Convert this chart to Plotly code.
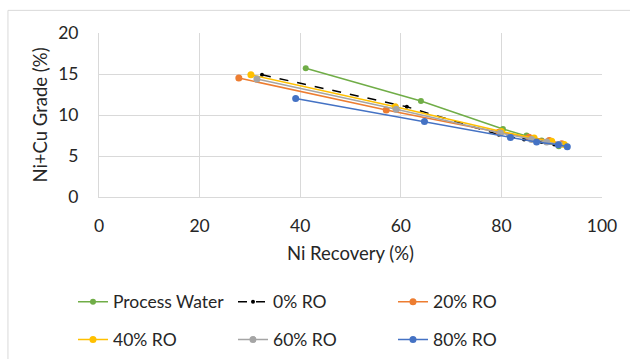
import plotly.graph_objects as go

# Ni recovery (%) vs Ni+Cu grade (%) for each water composition
pw_rec = [41.1, 64.0, 80.3, 85.0, 88.0, 91.4]
pw_grade = [15.7, 11.7, 8.3, 7.5, 6.9, 6.2]

ro0_rec = [32.4, 61.2, 79.5, 84.5, 88.0, 90.5]
ro0_grade = [14.9, 11.0, 7.6, 7.0, 6.7, 6.4]

ro20_rec = [27.8, 57.1, 79.5, 85.5, 89.5, 92.0]
ro20_grade = [14.5, 10.6, 7.9, 7.3, 6.9, 6.5]

ro40_rec = [30.2, 58.9, 80.0, 86.5, 90.0, 92.5]
ro40_grade = [14.9, 11.0, 8.0, 7.2, 6.8, 6.4]

ro60_rec = [31.4, 59.1, 79.8, 86.0, 89.0, 91.5]
ro60_grade = [14.4, 10.7, 7.8, 7.0, 6.7, 6.4]

ro80_rec = [39.1, 64.7, 81.8, 87.0, 91.3, 93.1]
ro80_grade = [12.0, 9.2, 7.26, 6.7, 6.36, 6.12]

# (name, x, y, colour, dash, marker size, legend row)
series = [
    ("Process Water", pw_rec, pw_grade, "#70AD47", "solid", 6, "legend"),
    ("0% RO", ro0_rec, ro0_grade, "#000000", "dash", 4, "legend"),
    ("20% RO", ro20_rec, ro20_grade, "#ED7D31", "solid", 7, "legend"),
    ("40% RO", ro40_rec, ro40_grade, "#FFC000", "solid", 7, "legend2"),
    ("60% RO", ro60_rec, ro60_grade, "#A5A5A5", "solid", 7, "legend2"),
    ("80% RO", ro80_rec, ro80_grade, "#4472C4", "solid", 7, "legend2"),
]

FONT = "Lato"
TXT = "#262626"
FS = 17.5

fig = go.Figure()
for name, xs, ys, color, dash, msize, lg in series:
    fig.add_trace(go.Scatter(
        x=xs, y=ys, name=name, mode="lines+markers", legend=lg,
        line=dict(color=color, width=1.5, dash=dash),
        marker=dict(color=color, size=msize),
    ))

legend_common = dict(
    orientation="h", xanchor="left", yanchor="middle", x=-0.0517,
    entrywidth=115, entrywidthmode="pixels",
    font=dict(family=FONT, size=FS, color=TXT),
    bgcolor="rgba(0,0,0,0)", borderwidth=0,
)

fig.update_layout(
    width=630, height=359,
    margin=dict(l=99, r=28, t=33, b=162, autoexpand=False),
    paper_bgcolor="white", plot_bgcolor="white",
    font=dict(family=FONT, size=FS, color=TXT),
    xaxis=dict(
        range=[0, 100], dtick=20, showgrid=True, gridcolor="#D9D9D9", gridwidth=1,
        zeroline=False, showline=True, linecolor="#D9D9D9",
        ticks="", ticklabelstandoff=13, tickfont=dict(size=FS, color=TXT),
        title=dict(text="Ni Recovery (%)", font=dict(size=18.5), standoff=12),
    ),
    yaxis=dict(
        range=[0, 20], dtick=5, showgrid=True, gridcolor="#D9D9D9", gridwidth=1,
        zeroline=False, showline=True, linecolor="#D9D9D9",
        ticks="", ticklabelstandoff=16, tickfont=dict(size=FS, color=TXT),
        title=dict(text="Ni+Cu Grade (%)", font=dict(size=18.5), standoff=5),
    ),
    legend=dict(y=-0.639, **legend_common),
    legend2=dict(y=-0.870, **legend_common),
    showlegend=True,
)

# chart-area frame lines (top and left)
fig.add_shape(type="line", xref="paper", yref="paper",
              x0=-0.181, x1=1.06, y0=1.138, y1=1.138,
              line=dict(color="#D9D9D9", width=1))
fig.add_shape(type="line", xref="paper", yref="paper",
              x0=-0.181, x1=-0.181, y0=1.138, y1=-1.0,
              line=dict(color="#D9D9D9", width=1))

fig.write_html("out.html")
